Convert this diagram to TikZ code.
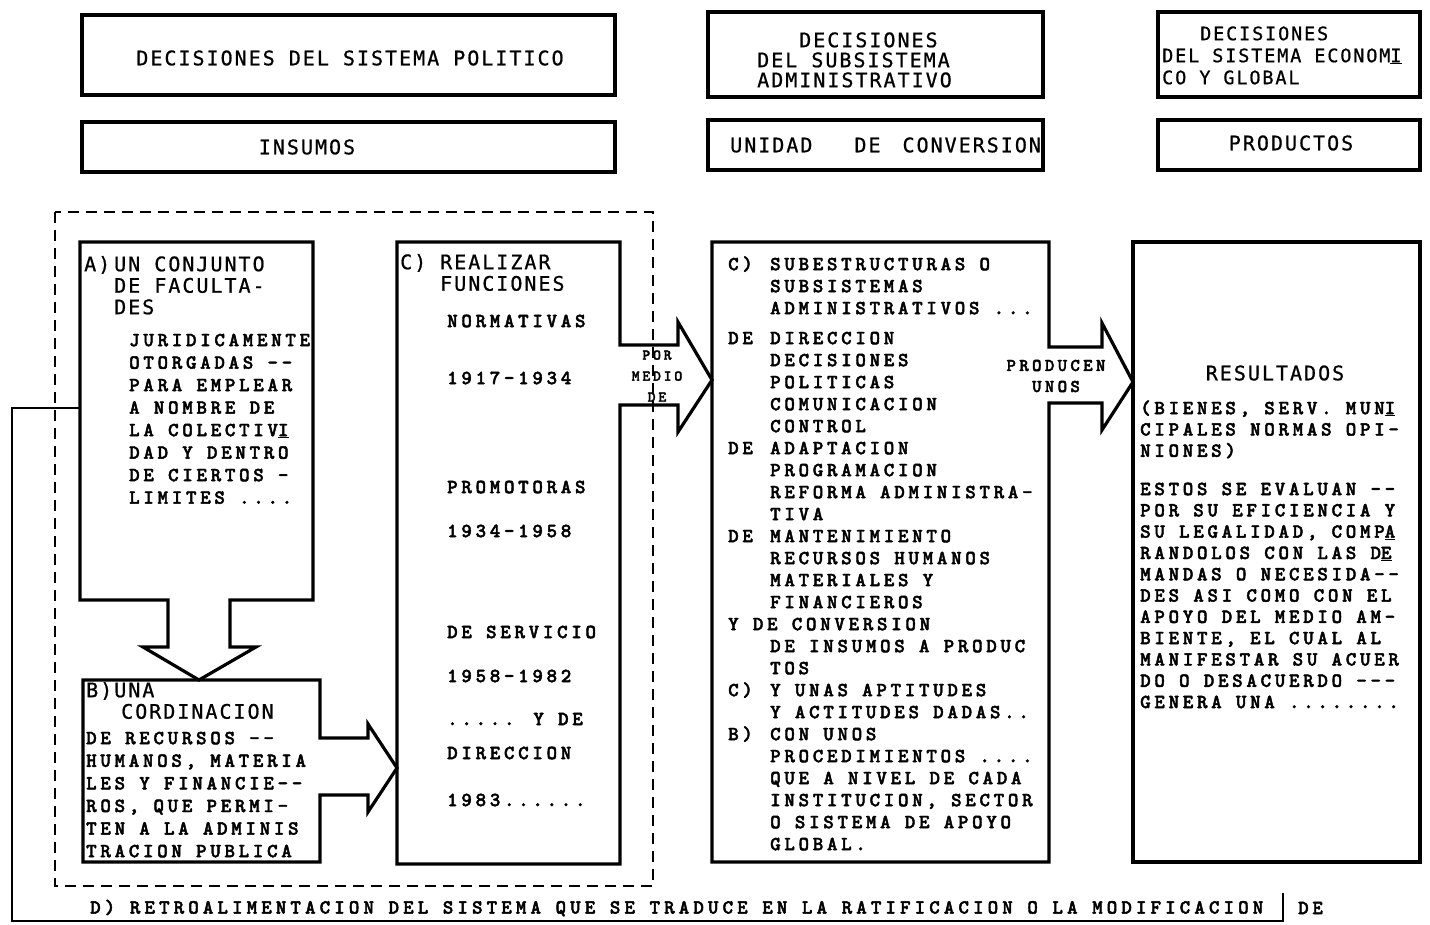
\documentclass[tikz,border=0pt]{standalone}
\usepackage{fontspec}
\newfontfamily\hdfont{DejaVu Sans Mono}[LetterSpace=10,FakeBold=0.8]
\newfontfamily\bdfont{lmmonolt10-bold.otf}[LetterSpace=18.5,FakeBold=2.2]
\newcommand{\fst}{\rule{0pt}{17pt}}
\newcommand{\undl}[1]{\underline{#1}}
\begin{document}
\begin{tikzpicture}[x=1pt,y=-1pt,
  box/.style={line width=3.2pt,line join=miter},
  dashbox/.style={line width=2.6pt,dash pattern=on 11pt off 7pt},
  fb/.style={line width=2.4pt},
  hd/.style={font=\hdfont\fontsize{20}{21.5}\selectfont,inner sep=0pt,align=left},
  bd/.style={font=\bdfont\fontsize{20}{22}\selectfont,inner sep=0pt,align=left,anchor=north west},
  bdl/.style={font=\bdfont\fontsize{20}{22}\selectfont,inner sep=0pt,anchor=west},
  sm/.style={font=\bdfont\fontsize{15}{21}\selectfont,inner sep=0pt,align=center}]
\useasboundingbox (0,0) rectangle (1430,925);
\fill[white] (0,0) rectangle (1430,925);

% top header boxes
\draw[box] (82,15) rectangle (615,95);
\node[hd] (t1) at (350,58) {DECISIONES DEL SISTEMA POLITICO};
\draw[box] (82,122) rectangle (615,172);
\node[hd] (t2) at (307,147) {INSUMOS};
\draw[box] (708,12) rectangle (1043,97);
\node[hd,anchor=north west,font=\hdfont\fontsize{20}{20}\selectfont] (t3) at (757,30)
  {\fst\hspace*{42pt}DECISIONES\\DEL SUBSISTEMA\\ADMINISTRATIVO};
\draw[box] (708,120) rectangle (1043,170);
\node[hd,anchor=west] (t4) at (730,145) {UNIDAD\hspace*{42pt}DE\hspace*{22pt}CONVERSION};
\draw[box] (1158,12) rectangle (1420,97);
\node[hd,anchor=north west,font=\hdfont\fontsize{18.5}{22}\selectfont] (t5) at (1162,23)
  {\fst\hspace*{38pt}DECISIONES\\DEL SISTEMA ECONOM\undl{I}\\CO Y GLOBAL};
\draw[box] (1158,120) rectangle (1420,170);
\node[hd] (t6) at (1291,143) {PRODUCTOS};

% dashed frame
\draw[dashbox] (55,212) rectangle (653,886);

% box A with down arrow
\draw[box] (80,242) -- (313,242) -- (313,600) -- (230,600) -- (230,647) -- (256,647)
  -- (199,680) -- (143,647) -- (168,647) -- (168,600) -- (80,600) -- cycle;
% box B with right arrow
\draw[box] (83,680) -- (320,680) -- (320,738) -- (368,738) -- (368,724) -- (397,768)
  -- (368,812) -- (368,795) -- (320,795) -- (320,862) -- (83,862) -- cycle;
% box C with right arrow
\draw[box] (397,242) -- (620,242) -- (620,345) -- (678,345) -- (678,322) -- (712,380)
  -- (678,432) -- (678,405) -- (620,405) -- (620,864) -- (397,864) -- cycle;
% conversion box with right arrow
\draw[box] (712,242) -- (1049,242) -- (1049,347) -- (1102,347) -- (1102,323) -- (1133,382)
  -- (1102,430) -- (1102,403) -- (1049,403) -- (1049,862) -- (712,862) -- cycle;
% result box
\draw[box] (1133,242) rectangle (1420,862);

% feedback line
\coordinate (fbstart) at (1283,893);
\draw[fb] (fbstart) -- (1283,921) -- (12,921) -- (12,408) -- (80,408);

% box A texts
\node[hd,anchor=north west] (ah) at (84,254)
  {\fst\makebox[30pt][l]{A)}UN CONJUNTO\\\hspace*{30pt}DE FACULTA-\\\hspace*{30pt}DES};
\node[bd,font=\bdfont\fontsize{20}{22.5}\selectfont] (ab) at (129,329)
  {\fst JURIDICAMENTE\\OTORGADAS --\\PARA EMPLEAR\\A NOMBRE DE\\LA COLECTIV\undl{I}\\DAD Y DENTRO\\DE CIERTOS -\\LIMITES ....};

% box B texts
\node[hd,anchor=north west] (bh) at (86,680) {\fst B)UNA\\\hspace*{35pt}CORDINACION};
\node[bd,font=\bdfont\fontsize{20}{22.6}\selectfont] (bb) at (86,727)
  {\fst DE RECURSOS --\\HUMANOS, MATERIA\\LES Y FINANCIE--\\ROS, QUE PERMI-\\TEN A LA ADMINIS\\TRACION PUBLICA};

% box C texts
\node[hd,anchor=north west] (ch) at (400,252)
  {\fst\makebox[40pt][l]{C)}REALIZAR\\\hspace*{40pt}FUNCIONES};
\node[bdl] (c1) at (447,321) {NORMATIVAS};
\node[bdl] (c2) at (447,378) {1917-1934};
\node[bdl] (c3) at (447,487) {PROMOTORAS};
\node[bdl] (c4) at (447,531) {1934-1958};
\node[bdl] (c5) at (447,632) {DE SERVICIO};
\node[bdl] (c6) at (447,676) {1958-1982};
\node[bdl] (c7) at (447,719) {..... Y DE};
\node[bdl] (c8) at (447,753) {DIRECCION};
\node[bdl] (c9) at (447,800) {1983......};

% arrow label
\node[sm] (pm) at (657,376) {POR\\MEDIO\\DE};

% conversion box text
\node[bd] (mb) at (728,253)
  {\fst\makebox[42pt][l]{C)}SUBESTRUCTURAS O\\
   \hspace*{42pt}SUBSISTEMAS\\
   \hspace*{42pt}ADMINISTRATIVOS ...\\[8pt]
   \makebox[42pt][l]{DE}DIRECCION\\
   \hspace*{42pt}DECISIONES\\
   \hspace*{42pt}POLITICAS\\
   \hspace*{42pt}COMUNICACION\\
   \hspace*{42pt}CONTROL\\
   \makebox[42pt][l]{DE}ADAPTACION\\
   \hspace*{42pt}PROGRAMACION\\
   \hspace*{42pt}REFORMA ADMINISTRA-\\
   \hspace*{42pt}TIVA\\
   \makebox[42pt][l]{DE}MANTENIMIENTO\\
   \hspace*{42pt}RECURSOS HUMANOS\\
   \hspace*{42pt}MATERIALES Y\\
   \hspace*{42pt}FINANCIEROS\\
   Y DE CONVERSION\\
   \hspace*{42pt}DE INSUMOS A PRODUC\\
   \hspace*{42pt}TOS\\
   \makebox[42pt][l]{C)}Y UNAS APTITUDES\\
   \hspace*{42pt}Y ACTITUDES DADAS..\\
   \makebox[42pt][l]{B)}CON UNOS\\
   \hspace*{42pt}PROCEDIMIENTOS ....\\
   \hspace*{42pt}QUE A NIVEL DE CADA\\
   \hspace*{42pt}INSTITUCION, SECTOR\\
   \hspace*{42pt}O SISTEMA DE APOYO\\
   \hspace*{42pt}GLOBAL.};

% produce label
\node[sm,font=\bdfont\fontsize{18}{21}\selectfont] (pl) at (1056,376) {PRODUCEN\\UNOS};

% result box text
\node[hd] (rh) at (1275,373) {RESULTADOS};
\node[bd,font=\bdfont\fontsize{20}{21.3}\selectfont] (rb) at (1140,397)
  {\fst (BIENES, SERV. MUN\undl{I}\\CIPALES NORMAS OPI-\\NIONES)\\[17pt]
   ESTOS SE EVALUAN --\\POR SU EFICIENCIA Y\\SU LEGALIDAD, COMP\undl{A}\\
   RANDOLOS CON LAS D\undl{E}\\MANDAS O NECESIDA--\\DES ASI COMO CON EL\\
   APOYO DEL MEDIO AM-\\BIENTE, EL CUAL AL\\MANIFESTAR SU ACUER\\
   DO O DESACUERDO ---\\GENERA UNA ........};

% feedback text
\node[bdl,font=\bdfont\addfontfeature{LetterSpace=20.5}\fontsize{20}{22}\selectfont] (fbt) at (90,908)
  {D) RETROALIMENTACION DEL SISTEMA QUE SE TRADUCE EN LA RATIFICACION O LA MODIFICACION};
\node[bdl] (fbd) at (1298,908) {DE};
\end{tikzpicture}
\end{document}
